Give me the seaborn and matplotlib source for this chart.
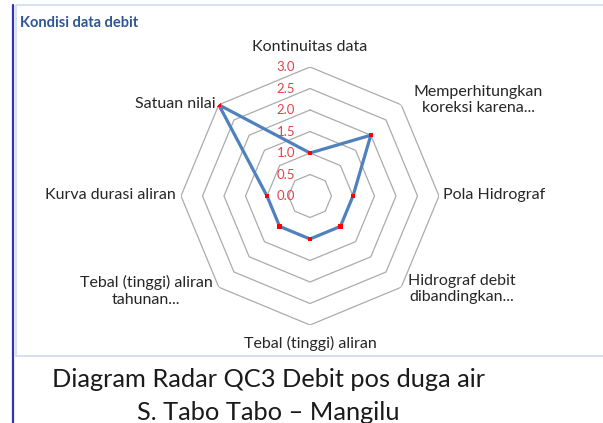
import numpy as np
import seaborn as sns
import matplotlib.pyplot as plt
from matplotlib.patches import Rectangle

categories = ['Kontinuitas data', 'Memperhitungkan\nkoreksi karena...', 'Pola Hidrograf',
              'Hidrograf debit\ndibandingkan...', 'Tebal (tinggi) aliran\nbulanan...',
              'Tebal (tinggi) aliran\ntahunan...', 'Kurva durasi aliran', 'Satuan nilai']
values = [1.0, 2.0, 1.0, 1.0, 1.0, 1.0, 1.0, 3.0]
ticks = [0.0, 0.5, 1.0, 1.5, 2.0, 2.5, 3.0]

sns.set_style('white')
plt.rcParams['font.family'] = ['Lato', 'DejaVu Sans']

W, H = 603, 423
fig = plt.figure(figsize=(W / 100, H / 100), dpi=100)


def px(x, y):
    return x / W, 1 - y / H


# radar axes: centre (310, 196), radius 129 px
cx, cy, R = 310, 196, 129
ax = fig.add_axes([(cx - R) / W, (H - cy - R) / H, 2 * R / W, 2 * R / H], projection='polar')
ax.set_theta_zero_location('N')
ax.set_theta_direction(-1)
ax.set_ylim(0, 3)
ax.set_xticks([])
ax.set_yticks([])
ax.grid(False)
ax.spines['polar'].set_visible(False)
ax.patch.set_alpha(0)

n = len(categories)
angles = np.linspace(0, 2 * np.pi, n, endpoint=False)
ang_closed = np.append(angles, 2 * np.pi)

for t in ticks[1:]:
    ax.plot(ang_closed, [t] * (n + 1), color='#ABABAB', lw=0.9, zorder=1)

sns.lineplot(x=ang_closed, y=values + values[:1], ax=ax, sort=False,
             color='#4F81BD', lw=2.3, zorder=3)
sns.scatterplot(x=angles, y=values, ax=ax, marker='s', s=10, color='#FF0000',
                edgecolor='none', zorder=4)

for t in ticks:
    ax.annotate(f'{t:.1f}', xy=(0, t), xytext=(-15, 0), textcoords='offset pixels',
                ha='right', va='center', fontsize=9.5, color='#E8404A', zorder=5)

# category labels
lab_pos = [(310, 47, 'center'), (478, 100, 'center'), (443, 195, 'left'),
           (462, 289, 'center'), (310, 353, 'center'), (146, 291, 'center'),
           (176, 195, 'right'), (216, 104, 'right')]
for lab, (x, y, ha) in zip(categories, lab_pos):
    ls = 1.45 if y > 340 else 1.2
    fig.text(*px(x, y), lab, ha=ha, va='center', fontsize=11.5, color='#262626',
             linespacing=ls, zorder=3)

# frame of the chart area
fig.patches.append(Rectangle(px(16, 423), (W - 16) / W, (423 - 356) / H,
                             transform=fig.transFigure, facecolor='white',
                             edgecolor='none', zorder=4))
fig.add_artist(plt.Line2D([16 / W, 16 / W, 1], [1 - 356 / H, 1 - 5 / H, 1 - 5 / H],
                          transform=fig.transFigure, color='#D0DDEE', lw=1.2, zorder=5))
fig.add_artist(plt.Line2D([16 / W, 1], [1 - 356 / H, 1 - 356 / H],
                          transform=fig.transFigure, color='#D0DDEE', lw=1.2, zorder=5))
fig.add_artist(plt.Line2D([12.5 / W, 12.5 / W], [0, 1 - 5 / H],
                          transform=fig.transFigure, color='#2B35B5', lw=1.6, zorder=5))

fig.text(*px(20, 23), 'Kondisi data debit', ha='left', va='center', fontsize=10.5,
         fontweight='bold', color='#2F5597', zorder=5)

fig.text(*px(268, 379), 'Diagram Radar QC3 Debit pos duga air', ha='center', va='center',
         fontsize=18.3, color='#1A1A1A', zorder=6)
fig.text(*px(268, 412), 'S. Tabo Tabo \u2013 Mangilu', ha='center', va='center',
         fontsize=18.3, color='#1A1A1A', zorder=6)

fig.savefig('out.png', dpi=100)
